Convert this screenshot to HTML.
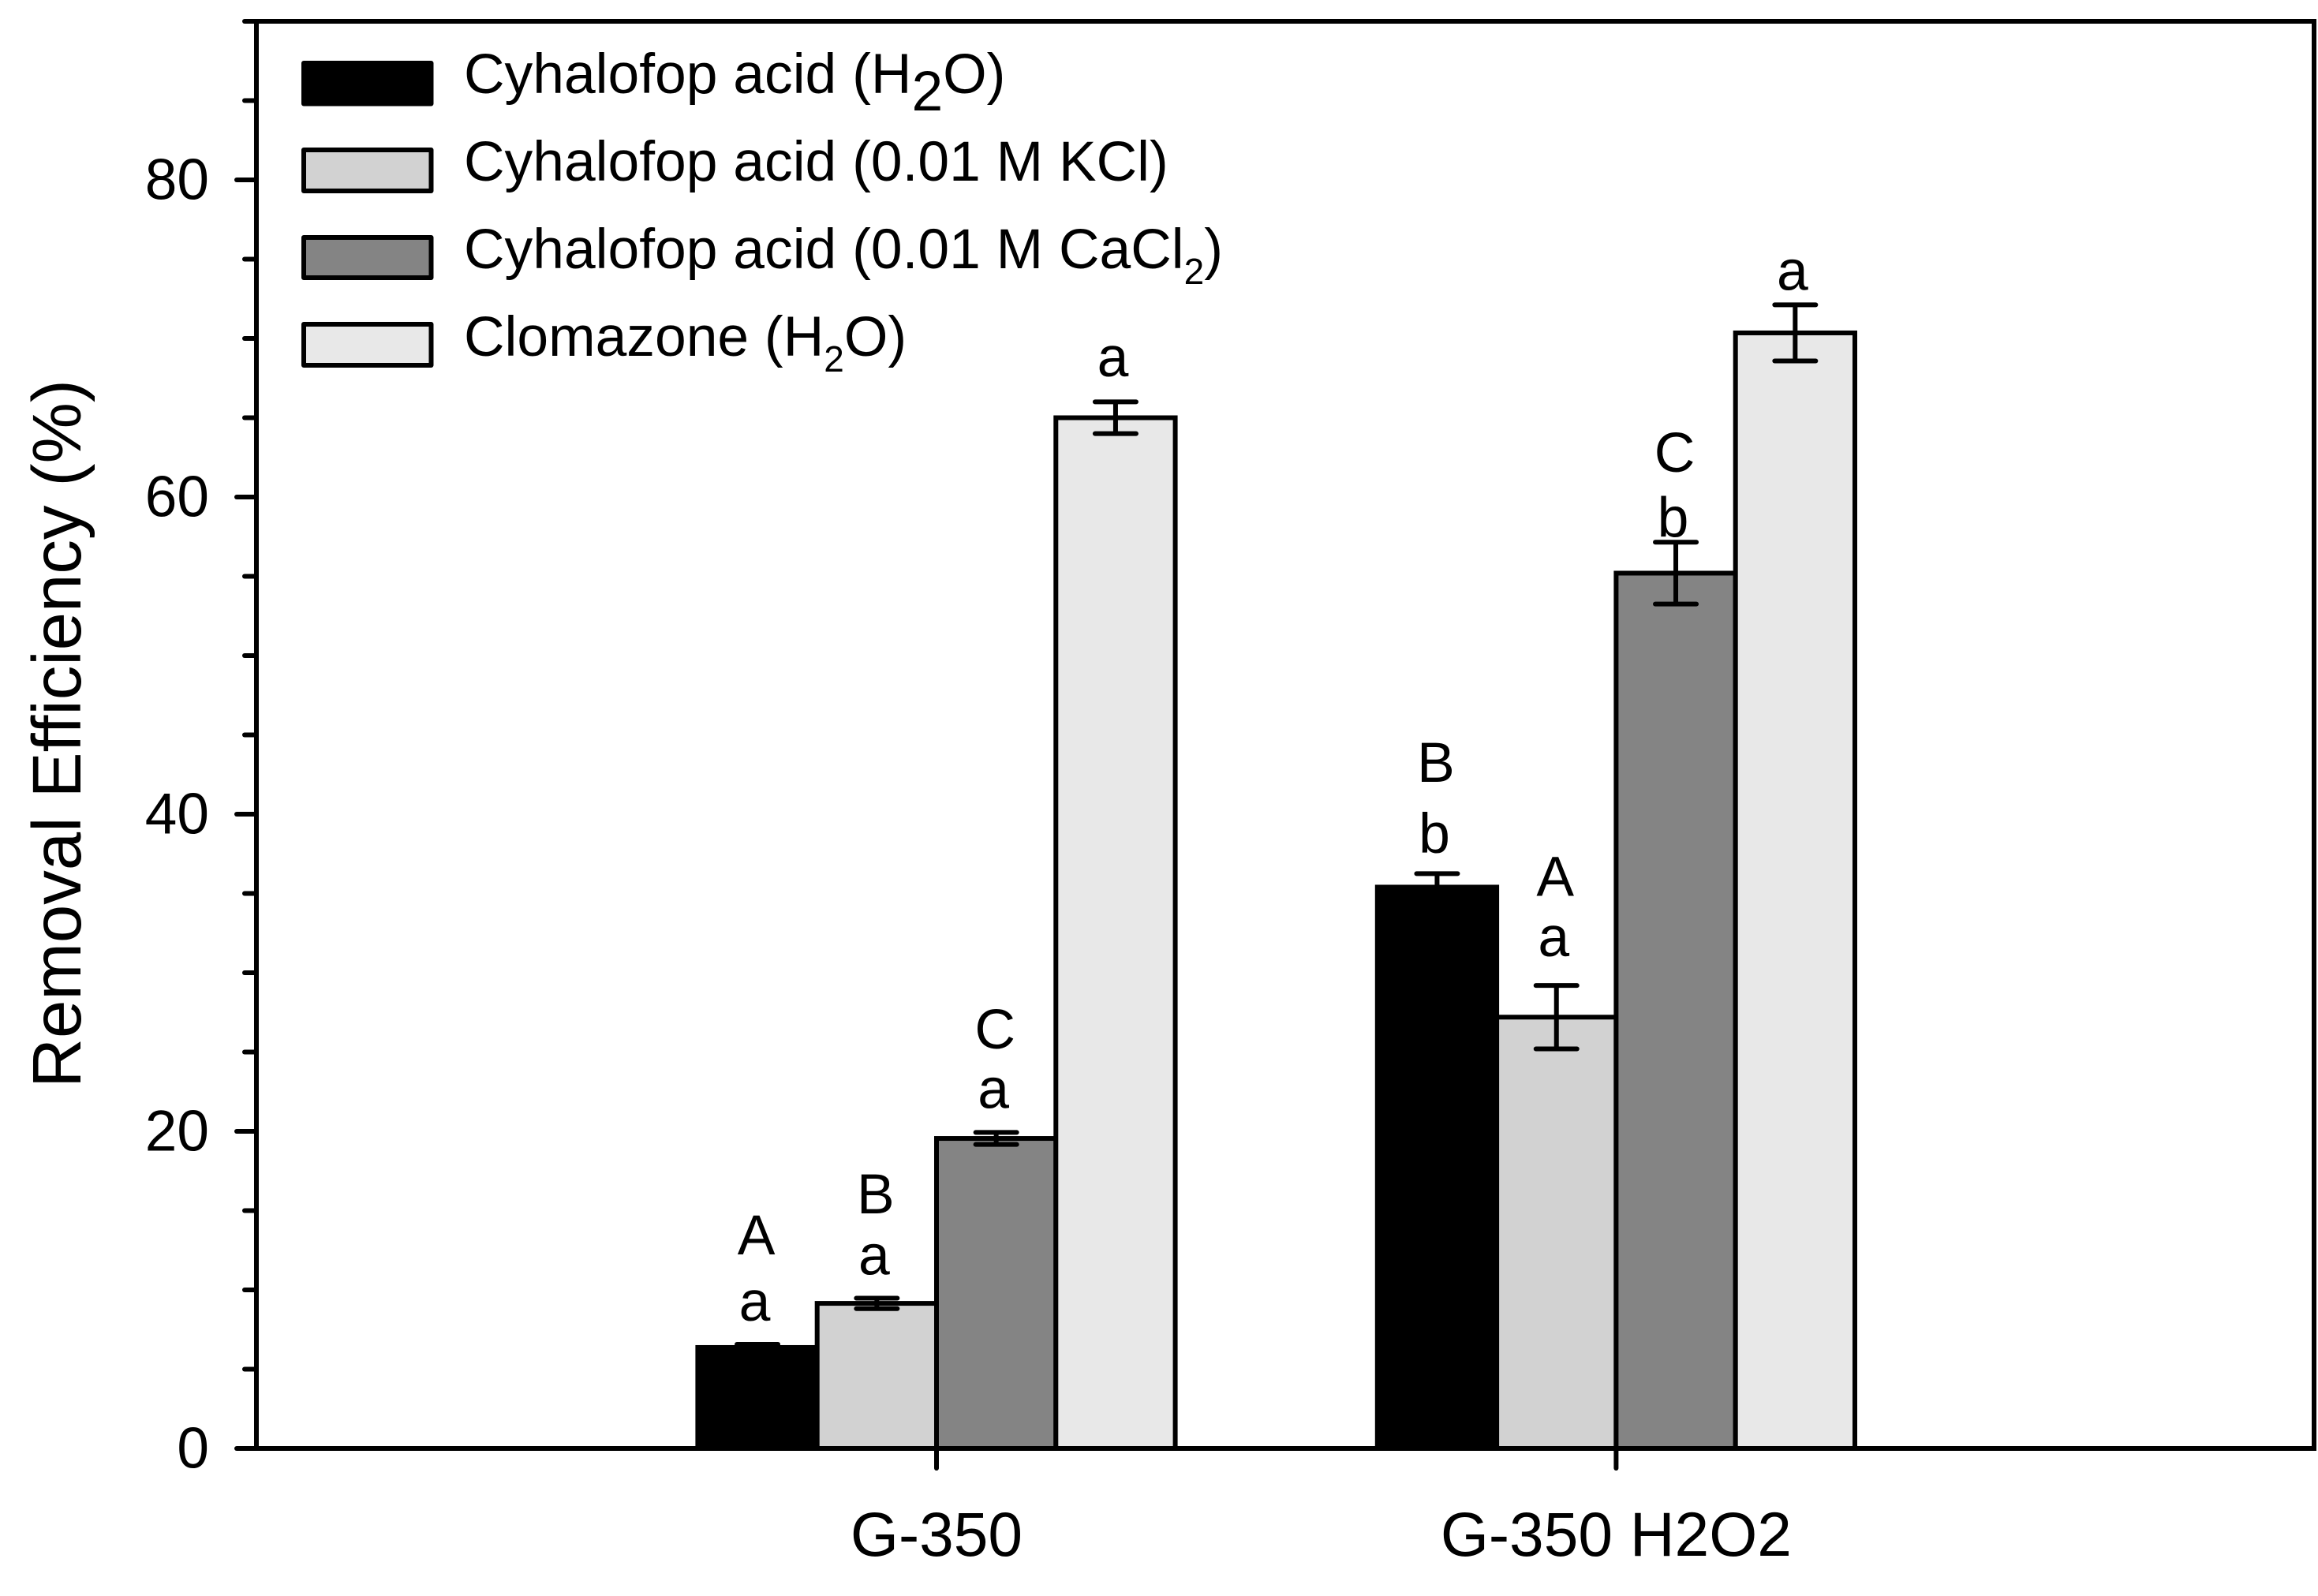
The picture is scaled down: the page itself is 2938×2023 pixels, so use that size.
<!DOCTYPE html>
<html lang="en">
<head>
<meta charset="utf-8">
<title>Removal Efficiency Bar Chart</title>
<style>
html,body{margin:0;padding:0;background:#fff;}
svg{display:block;}
text{font-family:"Liberation Sans",Arial,sans-serif;fill:#000;}
</style>
</head>
<body>
<svg id="chart" xmlns="http://www.w3.org/2000/svg" width="2938" height="2023" viewBox="0 0 2938 2023">
  <rect x="0" y="0" width="2938" height="2023" fill="#ffffff"/>
  <g id="bars"></g>
  <g id="errors"></g>
  <g id="letters"></g>
  <g id="axes"></g>
  <text transform="translate(102,930) rotate(-90)" text-anchor="middle" font-size="87">Removal Efficiency (%)</text>
  <g>
    <g>
      <rect x="385" y="80" width="161.5" height="51.5" fill="#000000" stroke="#000" stroke-width="6" stroke-linejoin="round"/>
      <text x="588" y="118" font-size="71.4">Cyhalofop acid (H<tspan dy="22">2</tspan><tspan dy="-22">O)</tspan></text>
    </g>
    <g>
      <rect x="385" y="190" width="161.5" height="52" fill="#d2d2d2" stroke="#000" stroke-width="6" stroke-linejoin="round"/>
      <text x="588" y="229" font-size="71.4">Cyhalofop acid (0.01 M KCl)</text>
    </g>
    <g>
      <rect x="385" y="301" width="161.5" height="51" fill="#848484" stroke="#000" stroke-width="6" stroke-linejoin="round"/>
      <text x="588" y="340" font-size="71.4">Cyhalofop acid (0.01 M CaCl<tspan dy="20" font-size="46">2</tspan><tspan dy="-20">)</tspan></text>
    </g>
    <g>
      <rect x="385" y="411" width="161.5" height="52" fill="#e8e8e8" stroke="#000" stroke-width="6" stroke-linejoin="round"/>
      <text x="588" y="451" font-size="71.4">Clomazone (H<tspan dy="20" font-size="46">2</tspan><tspan dy="-20">O)</tspan></text>
    </g>
  </g>
</svg>
<script>
// Chart data
const categories = ['G-350', 'G-350 H2O2'];
const seriesNames = ['Cyhalofop acid (H2O)', 'Cyhalofop acid (0.01 M KCl)', 'Cyhalofop acid (0.01 M CaCl2)', 'Clomazone (H2O)'];
const seriesFills = ['#000000', '#d2d2d2', '#848484', '#e8e8e8'];
const cyhalofopWater = [6.37, 35.4];
const cyhalofopKcl = [9.15, 27.2];
const cyhalofopCacl2 = [19.55, 55.2];
const clomazoneWater = [65.0, 70.35];
const errCyhalofopWater = [0.2, 0.85];
const errCyhalofopKcl = [0.33, 2.0];
const errCyhalofopCacl2 = [0.38, 1.95];
const errClomazoneWater = [1.0, 1.77];
const lowerLetters = [['a', 'a', 'a', 'a'], ['b', 'a', 'b', 'a']];
const upperLetters = [['A', 'B', 'C', ''], ['B', 'A', 'C', '']];
// Height of each letter above its error bar, in axis units
const lowerLift = [[1.5, 1.5, 1.53, 1.6], [1.3, 1.85, 0.35, 0.95]];
const upperLift = [[5.68, 5.35, 5.3, 0], [5.8, 5.65, 4.45, 0]];
const majorTicks = [0, 20, 40, 60, 80];
const minorTicks = [5, 10, 15, 25, 30, 35, 45, 50, 55, 65, 70, 75, 85, 90];

const SVGNS = 'http://www.w3.org/2000/svg';
const allValues = [cyhalofopWater, cyhalofopKcl, cyhalofopCacl2, clomazoneWater];
const allErrors = [errCyhalofopWater, errCyhalofopKcl, errCyhalofopCacl2, errClomazoneWater];

// Axis functions
function yScale(v) { return 1836 - v * 20.1; }
function xCategory(c) { return 1187 + c * 861.4; }
function xBarLeft(c, s) { return xCategory(c) + (s - 2) * 151.3; }
const barWidth = 151.3;

function make(tag, attrs, parent) {
  const el = document.createElementNS(SVGNS, tag);
  for (const k in attrs) el.setAttribute(k, attrs[k]);
  parent.appendChild(el);
  return el;
}

const barsG = document.getElementById('bars');
const errorsG = document.getElementById('errors');
const lettersG = document.getElementById('letters');
const axesG = document.getElementById('axes');

categories.forEach(function (cat, c) {
  seriesNames.forEach(function (name, s) {
    const v = allValues[s][c];
    const e = allErrors[s][c];
    const bar = make('rect', {
      x: xBarLeft(c, s), y: yScale(v), width: barWidth, height: yScale(0) - yScale(v),
      fill: seriesFills[s], stroke: '#000', 'stroke-width': 6
    }, barsG);
    
    

    const cx = xBarLeft(c, s) + barWidth / 2;
    const stem = make('line', {
      x1: cx, x2: cx, y1: yScale(v + e), y2: yScale(v - e), stroke: '#000', 'stroke-width': 6
    }, errorsG);
    
    
    [v + e, v - e].forEach(function (end) {
      const cap = make('line', {
        x1: cx - 26, x2: cx + 26, y1: yScale(end), y2: yScale(end),
        stroke: '#000', 'stroke-width': 6, 'stroke-linecap': 'round'
      }, errorsG);
      
      
    });

    const low = make('text', {
      x: cx - 3.5, y: yScale(v + e + lowerLift[c][s]), 'text-anchor': 'middle', 'font-size': 71.5
    }, lettersG);
    low.textContent = lowerLetters[c][s];
    
    
    if (upperLetters[c][s]) {
      const up = make('text', {
        x: cx - 1.5, y: yScale(v + e + upperLift[c][s]), 'text-anchor': 'middle', 'font-size': 71.5
      }, lettersG);
      up.textContent = upperLetters[c][s];
      
      
    }
  });
});

// Frame
const frame = make('rect', {
  x: 325, y: 27, width: 2608, height: 1809, fill: 'none', stroke: '#000', 'stroke-width': 6
}, axesG);



// Y ticks
majorTicks.forEach(function (t) {
  const tick = make('line', {
    x1: 300, x2: 325, y1: yScale(t), y2: yScale(t),
    stroke: '#000', 'stroke-width': 6, 'stroke-linecap': 'round'
  }, axesG);
  
  
  const label = make('text', {
    x: 265, y: yScale(t) + 24.5, 'text-anchor': 'end', 'font-size': 73
  }, axesG);
  label.textContent = String(t);
  
  
});
minorTicks.forEach(function (t) {
  const tick = make('line', {
    x1: 310, x2: 325, y1: yScale(t), y2: yScale(t),
    stroke: '#000', 'stroke-width': 6, 'stroke-linecap': 'round'
  }, axesG);
  
  
});

// X ticks and labels
categories.forEach(function (cat, c) {
  const tick = make('line', {
    x1: xCategory(c), x2: xCategory(c), y1: 1836, y2: 1861,
    stroke: '#000', 'stroke-width': 6, 'stroke-linecap': 'round'
  }, axesG);
  
  
  const label = make('text', {
    x: xCategory(c), y: 1972, 'text-anchor': 'middle', 'font-size': 78.5
  }, axesG);
  label.textContent = cat;
  
  
});
</script>
</body>
</html>
